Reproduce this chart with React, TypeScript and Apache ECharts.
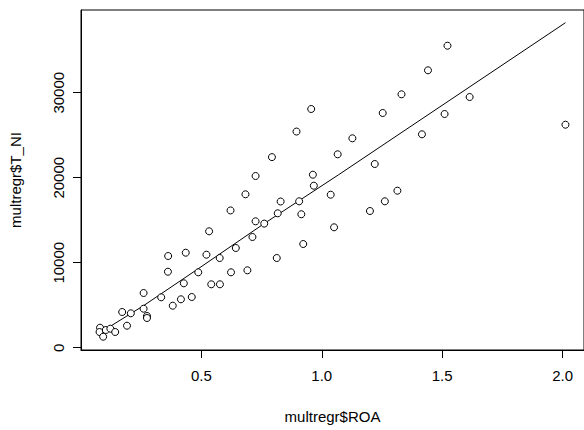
import React, { useEffect, useRef } from "react";
import * as echarts from "echarts";

const roa = [
  0.079, 0.077, 0.092, 0.103, 0.122, 0.142, 0.171, 0.191, 0.207, 0.26,
  0.26, 0.274, 0.274, 0.333, 0.362, 0.361, 0.381, 0.415, 0.427, 0.435,
  0.46, 0.487, 0.521, 0.532, 0.541, 0.577, 0.576, 0.621, 0.623, 0.643,
  0.683, 0.691, 0.712, 0.725, 0.725, 0.761, 0.793, 0.813, 0.817, 0.829,
  0.895, 0.906, 0.915, 0.923, 0.956, 0.963, 0.967, 1.037, 1.051, 1.066,
  1.127, 1.2, 1.22, 1.253, 1.262, 1.314, 1.331, 1.416, 1.441, 1.51,
  1.522, 1.614, 2.012,
];
const tNI = [
  2353, 1847, 1294, 2082, 2235, 1847, 4200, 2588, 4047, 6435,
  4588, 3729, 3494, 5929, 10788, 8941, 4941, 5694, 7576, 11176,
  5965, 8870, 10941, 13695, 7459, 7459, 10553, 16150, 8870, 11729,
  18047, 9106, 13024, 14871, 20200, 14600, 22420, 10553, 15812, 17200,
  25430, 17224, 15700, 12200, 28082, 20353, 19059, 18000, 14165, 22753,
  24635, 16082, 21612, 27612, 17224, 18471, 29812, 25106, 32635, 27494,
  35529, 29494, 26235,
];
const fitX = [0.077, 0.26, 0.49, 0.76, 1.07, 1.42, 2.012];
const fitY = [1730, 4950, 9350, 14590, 20350, 27000, 38235];
const xTicks = [0.5, 1.0, 1.5, 2.0];
const yTicks = [0, 10000, 20000, 30000];

const FONT = "Liberation Sans, Arial, sans-serif";

export default function App() {
  const ref = useRef<HTMLDivElement>(null);
  useEffect(() => {
    if (!ref.current) return;
    const chart = echarts.init(ref.current, undefined, { renderer: "svg" });
    const pts = roa.map((x, i) => [x, tNI[i]]);
    const line = fitX.map((x, i) => [x, fitY[i]]);
    chart.setOption({
      animation: false,
      backgroundColor: "#fff",
      grid: {
        left: 80,
        top: 10,
        width: 506,
        height: 340,
        show: true,
        borderColor: "#000",
        borderWidth: 1,
        backgroundColor: "transparent",
      },
      xAxis: {
        type: "value",
        min: 0,
        max: 2.089,
        name: "multregr$ROA",
        nameLocation: "middle",
        nameGap: 59,
        nameTextStyle: { fontFamily: FONT, fontSize: 15, color: "#000" },
        axisLine: { show: true, onZero: false, lineStyle: { color: "#000", width: 1 } },
        axisTick: { show: true, length: 8, customValues: xTicks, lineStyle: { color: "#000" } },
        axisLabel: {
          customValues: xTicks,
          margin: 18,
          fontFamily: FONT,
          fontSize: 15,
          color: "#000",
          formatter: (v: number) => v.toFixed(1),
        },
        splitLine: { show: false },
      },
      yAxis: {
        type: "value",
        min: -270,
        max: 39730,
        name: "multregr$T_NI",
        nameLocation: "middle",
        nameGap: 58,
        nameRotate: 90,
        nameTextStyle: { fontFamily: FONT, fontSize: 15, color: "#000" },
        axisLine: { show: true, onZero: false, lineStyle: { color: "#000", width: 1 } },
        axisTick: { show: true, length: 8, customValues: yTicks, lineStyle: { color: "#000" } },
        axisLabel: {
          customValues: yTicks,
          rotate: 90,
          margin: 15,
          fontFamily: FONT,
          fontSize: 15,
          color: "#000",
          formatter: (v: number) => String(v),
        },
        splitLine: { show: false },
      },
      series: [
        {
          type: "scatter",
          data: pts,
          symbol: "circle",
          symbolSize: 7,
          z: 3,
          itemStyle: { color: "#fff", borderColor: "#000", borderWidth: 1, opacity: 1 },
        },
        {
          type: "line",
          data: line,
          symbol: "none",
          z: 2,
          lineStyle: { color: "#000", width: 1 },
        },
      ],
    });
    return () => chart.dispose();
  }, []);
  return (
    <div
      ref={ref}
      style={{ position: "fixed", left: 0, top: 0, width: 584, height: 430, background: "#fff" }}
    />
  );
}
